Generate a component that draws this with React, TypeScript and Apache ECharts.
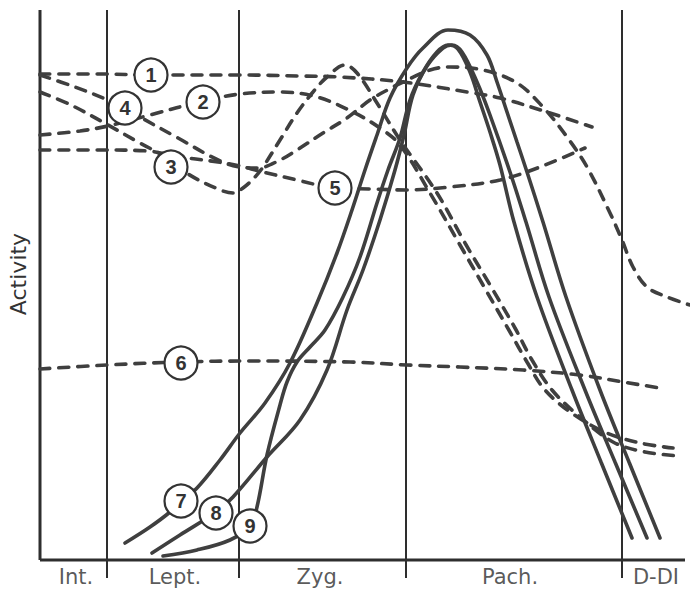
import React, { useEffect, useRef } from "react";
import * as echarts from "echarts";

// Stage boundaries (time units along the x axis) and stage names
const stageBoundaries = [67, 199, 366, 582];
const stageNames = ["Int.", "Lept.", "Zyg.", "Pach.", "D-DI"];
const stageCenters = [36, 135, 280, 470, 616];

// Dashed activity curves 1-6 ([time, activity])
const curve1 = [[0,486],[60,486],[111,485],[199,485],[260,484],[300,483],[363,478],[427,468],[460,462],[510,447],[552,433]];
const curve2 = [[0,425],[40,429],[68,434],[110,445],[163,459],[200,466],[240,468],[277,463],[313,448],[340,432],[360,415],[390,367],[420,315],[443,275],[470,228],[487,198],[505,170],[533,146],[567,127],[600,117],[633,112]];
const curve3 = [[0,468],[31,455],[68,435],[98,418],[131,400],[148,386],[178,371],[193,367],[203,372],[215,383],[223,393],[240,420],[257,447],[273,468],[287,483],[305,495],[317,487],[337,457],[360,420],[397,367],[425,317],[450,275],[475,232],[492,200],[512,170],[540,143],[573,118],[605,108],[640,104]];
const curve4 = [[0,485],[35,473],[68,460],[85,452],[100,443],[138,422],[178,400],[200,393],[218,392],[240,400],[257,410],[283,427],[307,442],[330,460],[353,473],[363,478],[390,490],[410,493],[443,490],[477,477],[503,453],[527,423],[547,393],[570,347],[582,320],[593,293],[607,273],[627,263],[650,255]];
const curve5 = [[0,410],[60,410],[108,409],[131,405],[148,402],[178,398],[200,394],[223,388],[257,380],[295,372],[330,371],[366,370],[410,373],[460,380],[500,393],[545,412]];
const curve6 = [[0,191],[67,195],[140,198],[210,199],[310,198],[367,195],[420,193],[483,190],[540,185],[583,178],[620,172]];

// Solid activity curves 7-9
const curve7 = [[85,17],[110,33],[130,48],[141,59],[157,72],[180,100],[200,127],[225,157],[250,197],[277,257],[297,307],[312,350],[325,390],[337,425],[350,462],[367,492],[383,512],[408,530],[430,525],[447,505],[457,478],[467,448],[477,418],[487,388],[503,338],[526,263],[560,170],[589,98],[620,22]];
const curve8 = [[112,7],[140,25],[176,48],[193,63],[227,103],[260,140],[287,190],[307,250],[323,290],[340,340],[355,390],[364,425],[373,465],[387,494],[403,512],[412,515],[422,508],[437,478],[450,445],[470,388],[486,338],[509,263],[545,170],[575,98],[607,22]];
const curve9 = [[123,4],[157,10],[190,20],[210,34],[217,53],[227,105],[240,155],[247,178],[257,198],[270,213],[285,230],[303,263],[320,303],[337,357],[348,390],[360,422],[370,460],[383,488],[397,508],[408,515],[418,511],[430,488],[440,458],[450,428],[460,395],[474,338],[497,263],[532,170],[561,98],[592,22]];

// Curve number labels
const labelNames = ["1", "2", "3", "4", "5", "6", "7", "8", "9"];
const labelPositions = [[111,485],[163,458],[131,393],[85,452],[295,372],[141,197],[141,59],[176,47],[210,34]];

const INK = "#3f3f3f";

export default function App() {
  const ref = useRef<HTMLDivElement>(null);
  useEffect(() => {
    if (!ref.current) return;
    const chart = echarts.init(ref.current, null, { renderer: "svg" });
    const dashed = [curve1, curve2, curve3, curve4, curve5, curve6];
    const solid = [curve7, curve8, curve9];
    const frameSeries: any[] = [
      { data: [[0, 0], [0, 550]], width: 3 },
      { data: [[0, 0], [645, 0]], width: 3 },
      ...stageBoundaries.map((b) => ({ data: [[b, -18], [b, 550]], width: 2 })),
    ].map((f) => ({
      type: "line",
      data: f.data,
      showSymbol: false,
      silent: true,
      clip: false,
      lineStyle: { color: "#2e2e2e", width: f.width },
      z: 1,
    }));
    const curveSeries: any[] = [
      ...dashed.map((d) => ({
        type: "line",
        data: d,
        smooth: 0.35,
        showSymbol: false,
        clip: false,
        lineStyle: { color: INK, width: 3.6, type: [10, 9], cap: "round" },
        z: 2,
      })),
      ...solid.map((d) => ({
        type: "line",
        data: d,
        smooth: 0.35,
        showSymbol: false,
        clip: false,
        lineStyle: { color: INK, width: 3.6, cap: "round" },
        z: 2,
      })),
    ];
    chart.setOption({
      animation: false,
      grid: { left: 40, right: 0, top: 0, bottom: 0 },
      xAxis: { type: "value", min: 0, max: 650, show: false },
      yAxis: { type: "value", min: -29, max: 560, show: false },
      graphic: [
        {
          type: "text",
          x: 18,
          y: 274,
          rotation: Math.PI / 2,
          style: {
            text: "Activity",
            fontSize: 22,
            fontFamily: "DejaVu Sans",
            fill: "#333",
            align: "center",
            verticalAlign: "middle",
          },
        },
      ],
      series: [
        ...frameSeries,
        ...curveSeries,
        {
          type: "scatter",
          data: stageNames.map((n, i) => ({ name: n, value: [stageCenters[i], -17] })),
          symbolSize: 0,
          silent: true,
          clip: false,
          label: {
            show: true,
            position: "inside",
            formatter: "{b}",
            fontSize: 21,
            fontFamily: "DejaVu Sans",
            color: "#2e2e2e",
          },
          z: 4,
        },
        {
          type: "scatter",
          data: labelNames.map((n, i) => ({ name: n, value: labelPositions[i] })),
          symbol: "circle",
          symbolSize: 33,
          silent: true,
          clip: false,
          itemStyle: { color: "#ffffff", borderColor: "#333", borderWidth: 2.2, opacity: 1 },
          label: {
            show: true,
            position: "inside",
            formatter: "{b}",
            fontSize: 20,
            fontWeight: "bold",
            fontFamily: "Liberation Sans",
            color: "#333",
          },
          z: 5,
        },
      ],
    });
    return () => chart.dispose();
  }, []);
  return (
    <div
      ref={ref}
      style={{ position: "fixed", left: 0, top: 0, width: 690, height: 589, background: "#fff" }}
    />
  );
}
